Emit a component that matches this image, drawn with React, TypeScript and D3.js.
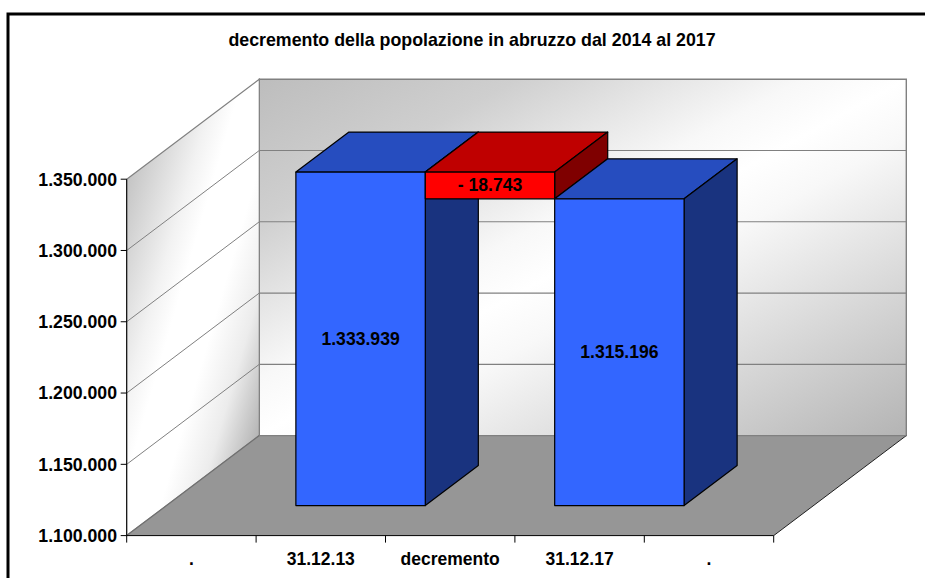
import React from "react";
import * as d3 from "d3";

const title = "decremento della popolazione in abruzzo dal 2014 al 2017";
const categories = [".", "31.12.13", "decremento", "31.12.17", "."];
const barCategories = ["31.12.13", "decremento", "31.12.17"];
const barStarts = [1100000, 1315196, 1100000];
const barEnds = [1333939, 1333939, 1315196];
const barLabels = ["1.333.939", "- 18.743", "1.315.196"];
const barKinds = ["blue", "red", "blue"];
const yDomain = [1100000, 1350000];

const palette: Record<string, { front: string; top: string; side: string }> = {
  blue: { front: "#3366ff", top: "#264dbf", side: "#19337f" },
  red: { front: "#ff0000", top: "#bf0000", side: "#7f0000" },
};

const FONT = "'Liberation Sans', Arial, sans-serif";
const depthX = 132.6;
const depthY = -100;
const x = d3.scaleBand<string>().domain(categories.map((c, i) => `${i}`)).range([126.7, 773.7]);
const y = d3.scaleLinear().domain(yDomain).range([535.6, 179.2]);
const fmt = d3.formatLocale({ decimal: ",", thousands: ".", grouping: [3], currency: ["", ""] }).format(",d");

const P = (px: number, py: number, z: number): [number, number] => [px + depthX * z, py + depthY * z];
const poly = (pts: [number, number][]) => pts.map((p) => p.join(",")).join(" ");

const wallLeft = x.range()[0];
const wallRight = x.range()[1];
const yMin = y(yDomain[0]);
const yMax = y(yDomain[1]);

function sideGradient() {
  const a0 = P(wallLeft, yMax, 0);
  const c1 = P(wallLeft, yMax, 1);
  const c3 = P(wallLeft, yMin, 0);
  const b = 0.5 / (c3[1] - a0[1]);
  const a = (0.5 - b * (c1[1] - a0[1])) / (c1[0] - a0[0]);
  const n = a * a + b * b;
  return { x1: a0[0], y1: a0[1], x2: a0[0] + a / n, y2: a0[1] + b / n };
}

export default function App() {
  const ticks = y.ticks(5);
  const sg = sideGradient();
  const zFront = 0.3;
  const zBack = 0.7;
  return (
    <svg
      width={925}
      height={578}
      viewBox="0 0 925 578"
      style={{ position: "fixed", left: 0, top: 0, background: "#fff" }}
      fontFamily={FONT}
      fontWeight={700}
    >
      <defs>
        <linearGradient id="backG" x1="0" y1="0" x2="1" y2="1">
          <stop offset="0" stopColor="#bdbdbd" />
          <stop offset="0.2" stopColor="#cfcfcf" />
          <stop offset="0.42" stopColor="#f8f8f8" />
          <stop offset="0.5" stopColor="#ffffff" />
          <stop offset="0.58" stopColor="#f8f8f8" />
          <stop offset="1" stopColor="#b4b4b4" />
        </linearGradient>
        <linearGradient id="sideG" gradientUnits="userSpaceOnUse" x1={sg.x1} y1={sg.y1} x2={sg.x2} y2={sg.y2}>
          <stop offset="0" stopColor="#c4c4c4" />
          <stop offset="0.3" stopColor="#f2f2f2" />
          <stop offset="0.42" stopColor="#ffffff" />
          <stop offset="0.62" stopColor="#ffffff" />
          <stop offset="0.8" stopColor="#ececec" />
          <stop offset="1" stopColor="#b4b4b4" />
        </linearGradient>
      </defs>

      <rect x={8} y={14} width={930} height={590} fill="#fff" stroke="#000" strokeWidth={3} />

      <text x={472} y={46} textAnchor="middle" fontSize={17.8} fill="#000">{title}</text>

      {/* walls */}
      <polygon
        points={poly([P(wallLeft, yMax, 1), P(wallRight, yMax, 1), P(wallRight, yMin, 1), P(wallLeft, yMin, 1)])}
        fill="url(#backG)" stroke="#808080" strokeWidth={1.4}
      />
      <polygon
        points={poly([P(wallLeft, yMax, 0), P(wallLeft, yMax, 1), P(wallLeft, yMin, 1), P(wallLeft, yMin, 0)])}
        fill="url(#sideG)" stroke="#808080" strokeWidth={1.2}
      />
      <polygon
        points={poly([P(wallLeft, yMin, 0), P(wallRight, yMin, 0), P(wallRight, yMin, 1), P(wallLeft, yMin, 1)])}
        fill="#969696"
      />
      <line x1={wallLeft} y1={yMin} x2={P(wallLeft, yMin, 1)[0]} y2={P(wallLeft, yMin, 1)[1]} stroke="#707070" strokeWidth={1.2} />
      <line x1={wallRight} y1={yMin} x2={P(wallRight, yMin, 1)[0]} y2={P(wallRight, yMin, 1)[1]} stroke="#202020" strokeWidth={1} />
      <line x1={P(wallLeft, yMin, 1)[0]} y1={P(wallLeft, yMin, 1)[1]} x2={P(wallRight, yMin, 1)[0]} y2={P(wallRight, yMin, 1)[1]} stroke="#808080" strokeWidth={1.4} />

      {/* gridlines */}
      {ticks.slice(1, -1).map((t) => {
        const a = P(wallLeft, y(t), 0);
        const b = P(wallLeft, y(t), 1);
        const c = P(wallRight, y(t), 1);
        return (
          <g key={t} fill="none" stroke="#808080" strokeWidth={1}>
            <polyline points={poly([a, b])} />
            <polyline points={poly([b, c])} strokeWidth={1.2} />
          </g>
        );
      })}

      {/* bars */}
      {barCategories.map((c, i) => {
        const idx = categories.indexOf(c);
        const band = x(`${idx}`) as number;
        const w = x.bandwidth();
        const col = palette[barKinds[i]];
        const yB = y(barStarts[i]);
        const yT = y(barEnds[i]);
        const fTL = P(band, yT, zFront);
        const fTR = P(band + w, yT, zFront);
        const fBR = P(band + w, yB, zFront);
        const fBL = P(band, yB, zFront);
        const bTL = P(band, yT, zBack);
        const bTR = P(band + w, yT, zBack);
        const bBR = P(band + w, yB, zBack);
        return (
          <g key={c} stroke="#000" strokeWidth={1.2} strokeLinejoin="round">
            <polygon points={poly([fTL, fTR, bTR, bTL])} fill={col.top} />
            <polygon points={poly([fTR, fBR, bBR, bTR])} fill={col.side} />
            <polygon points={poly([fTL, fTR, fBR, fBL])} fill={col.front} />
          </g>
        );
      })}

      {/* bar labels */}
      {barCategories.map((c, i) => {
        const idx = categories.indexOf(c);
        const band = x(`${idx}`) as number;
        const p = P(band + x.bandwidth() / 2, (y(barStarts[i]) + y(barEnds[i])) / 2, zFront);
        return (
          <text key={c} x={p[0]} y={p[1]} dy="0.34em" textAnchor="middle" fontSize={17.6} fill="#000">
            {barLabels[i]}
          </text>
        );
      })}

      {/* y axis */}
      <line x1={wallLeft} y1={yMax} x2={wallLeft} y2={yMin} stroke="#000" strokeWidth={1} />
      {ticks.map((t) => (
        <g key={t}>
          <line x1={wallLeft - 6} x2={wallLeft} y1={y(t)} y2={y(t)} stroke="#000" strokeWidth={1} />
          <text x={117} y={y(t)} dy="0.36em" textAnchor="end" fontSize={17.7} fill="#000">{fmt(t)}</text>
        </g>
      ))}

      {/* x axis */}
      <line x1={wallLeft} y1={yMin} x2={wallRight} y2={yMin} stroke="#000" strokeWidth={1} />
      {categories.map((c, i) => {
        const band = x(`${i}`) as number;
        return (
          <g key={i}>
            <line x1={band} x2={band} y1={yMin} y2={yMin + 7} stroke="#000" strokeWidth={1} />
            {i === categories.length - 1 && (
              <line x1={band + x.bandwidth()} x2={band + x.bandwidth()} y1={yMin} y2={yMin + 7} stroke="#000" strokeWidth={1} />
            )}
            <text x={band + x.bandwidth() / 2} y={565} textAnchor="middle" fontSize={17.5} fill="#000">{c}</text>
          </g>
        );
      })}
    </svg>
  );
}
